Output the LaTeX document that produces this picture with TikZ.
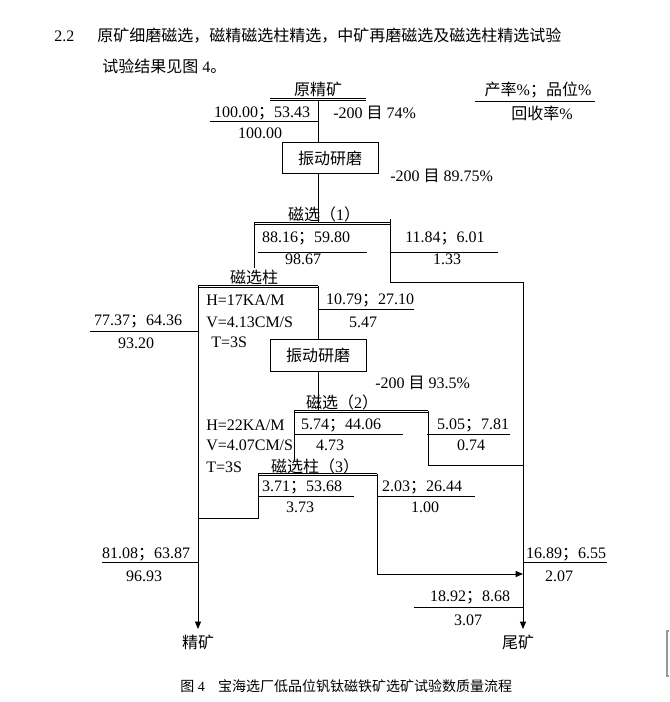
\documentclass[tikz,border=0pt]{standalone}
\usepackage{fontspec}
\setmainfont{Liberation Serif}
\newfontfamily\cjk{Noto Sans CJK SC}
\usetikzlibrary{positioning}
\usetikzlibrary{calc}
\usetikzlibrary{arrows.meta}

\newcommand\semi{{\cjk ；}}
\newcommand\twinline[2]{%
  \foreach \s in {-0.75pt, 0.75pt}
    \draw [flow] ([yshift = \s]#1) -- ([yshift = \s]#2);}

\begin{document}
\begin{tikzpicture}
  [x = 0.75pt, y = -0.75pt,
   every node/.style = {inner sep = 0pt, font = \fontsize{12}{14}\selectfont},
   mill/.style = {draw, line width = 0.75pt, minimum width = 72pt, minimum height = 23.5pt},
   flow/.style = {line width = 0.75pt},
   outflow/.style = {flow, -{Triangle[length = 5.5pt, width = 4.5pt]}},
   param/.style = {anchor = west},
   heading/.style = {anchor = west, font = \fontsize{12}{15}\selectfont}]
  \useasboundingbox (0, 0) rectangle (669, 702);

  \node [heading] (secno) at (54, 36) {2.2};
  \node [heading] (title) at (97, 36) {\cjk 原矿细磨磁选，磁精磁选柱精选，中矿再磨磁选及磁选柱精选试验};
  \node [heading] (title2) at (102, 66) {{\cjk 试验结果见图} 4{\cjk 。}};

  % feed and first grinding
  \node (feed) at (318, 89) {\cjk 原精矿};
  \coordinate (feedw) at (270, 100);
  \coordinate (feede) at (366, 100);
  \coordinate (feedout) at (318, 100);
  \node [mill] (grind1) at (330, 158) {\cjk 振动研磨};

  % magnetic separation (1)
  \node (ms1) at (324, 214) {{\cjk 磁选（}1{\cjk ）}};
  \coordinate (ms1w) at (254, 223);
  \coordinate (ms1e) at (390, 223);
  \coordinate (ms1top) at (390, 219);
  \coordinate (ms1conc) at (254, 268);
  \coordinate (tailturn) at (523, 282);

  % magnetic column
  \node (col1) at (254, 277) {\cjk 磁选柱};
  \coordinate (col1w) at (198, 286);
  \coordinate (col1e) at (318, 286);
  \node [mill] (grind2) at (318, 355.5) {\cjk 振动研磨};

  % magnetic separation (2)
  \node (ms2) at (342, 402) {{\cjk 磁选（}2{\cjk ）}};
  \coordinate (ms2w) at (294, 411);
  \coordinate (ms2e) at (428, 411);
  \coordinate (ms2mid) at (294, 460);
  \coordinate (ms2turn) at (428, 465);

  % magnetic column (3)
  \node (col3) at (315, 466) {{\cjk 磁选柱（}3{\cjk ）}};
  \coordinate (col3w) at (258, 474);
  \coordinate (col3e) at (377, 474);
  \coordinate (col3back) at (258, 518);
  \coordinate (col3turn) at (377, 574);

  % products
  \node (conc) at (198, 642) {\cjk 精矿};
  \node (tail) at (518, 642) {\cjk 尾矿};
  \coordinate (concin) at (198, 629);
  \coordinate (tailin) at (523, 629);

  \twinline{feedw}{feede}
  \draw [flow] (feedout) -- (feedout |- grind1.north);
  \draw [flow] (feedout |- grind1.south) -- (feedout |- ms1w);
  \twinline{ms1w}{ms1e}
  \draw [flow] (ms1w) -- (ms1conc);
  \draw [outflow] (ms1top) |- (tailturn) -- (tailin);
  \twinline{col1w}{col1e}
  \draw [outflow] (col1w) -- (concin);
  \draw [flow] (col1e) -- (col1e |- grind2.north);
  \draw [flow] (col1e |- grind2.south) -- (col1e |- ms2w);
  \twinline{ms2w}{ms2e}
  \draw [flow] (ms2w) -- (ms2mid);
  \draw [flow] (ms2e) -- (ms2turn) -- (ms2turn -| tailin);
  \twinline{col3w}{col3e}
  \draw [flow] (col3w) -- (col3back) -- (col3back -| col1w);
  \draw [outflow] (col3e) -- (col3turn) -- (col3turn -| tailin);

  % grinding and column conditions
  \node [param] (mesh1) at (333, 113) {-200 {\cjk 目} 74\%};
  \node [param] (mesh2) at (390, 176) {-200 {\cjk 目} 89.75\%};
  \node [param] (mesh3) at (375, 383) {-200 {\cjk 目} 93.5\%};
  \node [param] (h1) at (206, 300) {H=17KA/M};
  \node [param] (v1) at (206, 322) {V=4.13CM/S};
  \node [param] (t1) at (211, 342) {T=3S};
  \node [param] (h3) at (206, 425) {H=22KA/M};
  \node [param] (v3) at (206, 445) {V=4.07CM/S};
  \node [param] (t3) at (206, 467) {T=3S};

  % legend
  \node (legend) at (538, 90) {{\cjk 产率}\%{\cjk ；品位}\%};
  \draw [flow] (475, 102) -- (595, 102);
  \node (legend2) at (542, 113) {{\cjk 回收率}\%};

  % yield; grade over recovery
  \foreach \tx/\ty/\yld/\la/\lb/\ly/\bx/\by/\rec [count = \i] in {
      262/113/100.00\semi53.43/210/319/122/260/133/100.00,
      306/238/88.16\semi59.80/258/367/252/303/259/98.67,
      445/238/11.84\semi6.01/390/498/252/447/259/1.33,
      370/300/10.79\semi27.10/318/414/309/363/322/5.47,
      138/321/77.37\semi64.36/90/198/331/136/343/93.20,
      341/425/5.74\semi44.06/294/403/434/330/445/4.73,
      473/425/5.05\semi7.81/427/510/434/471/445/0.74,
      302/487/3.71\semi53.68/258/354/496/300/507/3.73,
      422/487/2.03\semi26.44/378/475/496/425/507/1.00,
      146/554/81.08\semi63.87/102/198/562/144/576/96.93,
      566/554/16.89\semi6.55/523/607/562/559/576/2.07,
      470/597/18.92\semi8.68/414/523/607/468/620/3.07}
  {
    \node (y\i) at (\tx, \ty) {\yld};
    \draw [flow] (\la, \ly) -- (\lb, \ly);
    \node (r\i) at (\bx, \by) {\rec};
  }

  \node [anchor = west, font = \fontsize{10.5}{12}\selectfont] (caption) at (180, 686)
    {{\cjk 图} 4\hspace{10pt}{\cjk 宝海选厂低品位钒钛磁铁矿选矿试验数质量流程}};

  \draw [black!40, line width = 1.5pt] (669, 630.5) -- (667, 630.5) -- (667, 675.5) -- (669, 675.5);
\end{tikzpicture}
\end{document}
